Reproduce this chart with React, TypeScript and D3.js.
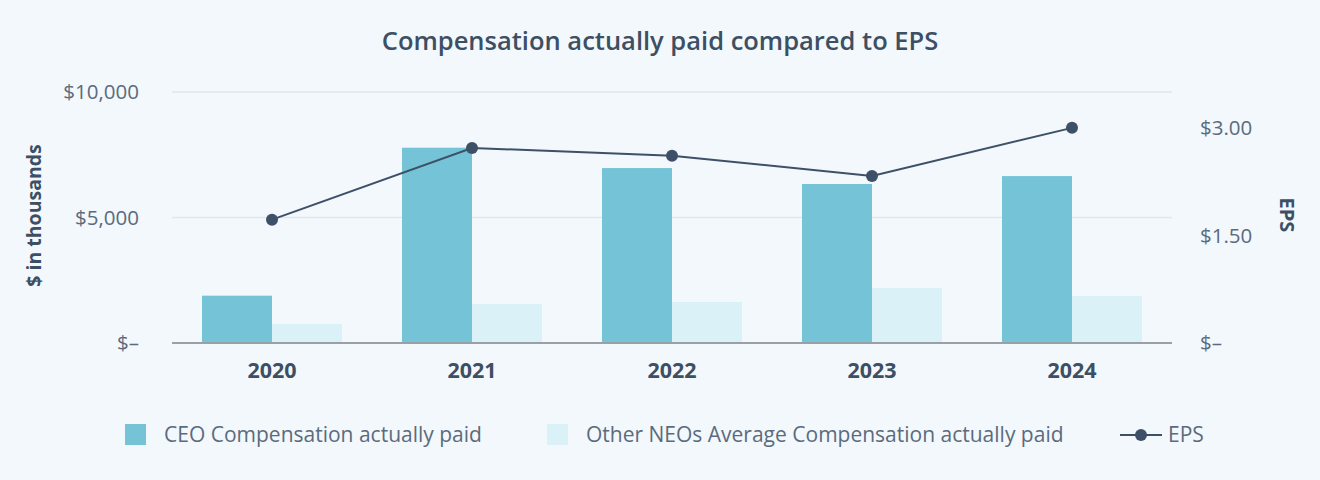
import { useEffect, useRef } from 'react';
import * as d3 from 'd3';

const years = ['2020', '2021', '2022', '2023', '2024'];
const ceoPaid = [1885, 7780, 6970, 6335, 6650];
const neoPaid = [757, 1554, 1633, 2191, 1873];
const eps = [1.72, 2.72, 2.61, 2.33, 3.0];
const leftTicks = [0, 5000, 10000];
const rightTicks = [0, 1.5, 3.0];

const W = 1320;
const H = 480;
const FONT = '"Open Sans", Lato, sans-serif';
const CEO_COLOR = '#74c3d6';
const NEO_COLOR = '#daf1f7';
const LINE_COLOR = '#3d5068';
const TEXT = '#5b6b7c';
const DARK = '#3d4f63';

export default function App() {
  const svgRef = useRef<SVGSVGElement>(null);

  useEffect(() => {
    if (!svgRef.current) return;
    const svg = d3.select(svgRef.current);
    svg.selectAll('*').remove();

    const margin = { top: 92, right: 148, bottom: 137, left: 172 };
    const innerW = W - margin.left - margin.right;
    const innerH = H - margin.top - margin.bottom;

    svg.append('rect').attr('width', W).attr('height', H).attr('fill', '#f2f8fc');

    svg.append('text')
      .attr('x', 660).attr('y', 50)
      .attr('text-anchor', 'middle')
      .attr('font-family', FONT).attr('font-size', 25.5).attr('font-weight', 600)
      .attr('fill', DARK)
      .text('Compensation actually paid compared to EPS');

    const g = svg.append('g').attr('transform', `translate(${margin.left},${margin.top})`);

    const x = d3.scaleBand().domain(years).range([0, innerW]).paddingInner(0.3).paddingOuter(0.15);
    const x1 = d3.scaleBand().domain(['ceo', 'neo']).range([0, x.bandwidth()]);
    const yL = d3.scaleLinear().domain([0, 10000]).range([innerH, 0]);
    const yR = d3.scaleLinear().domain([0, 3.5]).range([innerH, 0]);

    // gridlines
    g.selectAll('line.grid').data(leftTicks.filter(t => t > 0)).join('line')
      .attr('x1', 0).attr('x2', innerW)
      .attr('y1', d => yL(d)).attr('y2', d => yL(d))
      .attr('stroke', '#e2e6ea').attr('stroke-width', 1.5);

    // left ticks
    g.selectAll('text.lt').data(leftTicks).join('text')
      .attr('x', -33).attr('y', d => yL(d))
      .attr('dy', '0.35em').attr('text-anchor', 'end')
      .attr('font-family', FONT).attr('font-size', 20.5).attr('fill', TEXT)
      .text(d => d === 0 ? '$–' : d3.format('$,')(d));

    // right ticks
    g.selectAll('text.rt').data(rightTicks).join('text')
      .attr('x', innerW + 28).attr('y', d => yR(d))
      .attr('dy', '0.35em').attr('text-anchor', 'start')
      .attr('font-family', FONT).attr('font-size', 20.5).attr('fill', TEXT)
      .text(d => d === 0 ? '$–' : d3.format('$.2f')(d));

    // bars
    const groups = g.selectAll('g.yr').data(years).join('g')
      .attr('transform', d => `translate(${x(d)},0)`);
    groups.append('rect')
      .attr('x', x1('ceo')!).attr('width', x1.bandwidth())
      .attr('y', (_, i) => yL(ceoPaid[i])).attr('height', (_, i) => innerH - yL(ceoPaid[i]))
      .attr('fill', CEO_COLOR);
    groups.append('rect')
      .attr('x', x1('neo')!).attr('width', x1.bandwidth())
      .attr('y', (_, i) => yL(neoPaid[i])).attr('height', (_, i) => innerH - yL(neoPaid[i]))
      .attr('fill', NEO_COLOR);

    // baseline
    g.append('line')
      .attr('x1', 0).attr('x2', innerW).attr('y1', innerH).attr('y2', innerH)
      .attr('stroke', '#9aa0a6').attr('stroke-width', 2);

    // year labels
    g.selectAll('text.yr').data(years).join('text')
      .attr('x', d => x(d)! + x.bandwidth() / 2).attr('y', innerH + 35)
      .attr('text-anchor', 'middle')
      .attr('font-family', FONT).attr('font-size', 21.5).attr('font-weight', 700)
      .attr('fill', DARK)
      .text(d => d);

    // EPS line
    const cx = (i: number) => x(years[i])! + x.bandwidth() / 2;
    const line = d3.line<number>().x((_, i) => cx(i)).y(d => yR(d));
    g.append('path').datum(eps)
      .attr('fill', 'none').attr('stroke', LINE_COLOR).attr('stroke-width', 2)
      .attr('d', line);
    g.selectAll('circle.eps').data(eps).join('circle')
      .attr('cx', (_, i) => cx(i)).attr('cy', d => yR(d))
      .attr('r', 6).attr('fill', LINE_COLOR);

    // axis titles
    svg.append('text')
      .attr('transform', `translate(41,${margin.top + innerH / 2 - 2}) rotate(-90)`)
      .attr('text-anchor', 'middle')
      .attr('font-family', FONT).attr('font-size', 19.5).attr('font-weight', 700)
      .attr('fill', DARK)
      .text('$ in thousands');
    svg.append('text')
      .attr('transform', `translate(1280,215) rotate(90)`)
      .attr('text-anchor', 'middle')
      .attr('font-family', FONT).attr('font-size', 20).attr('font-weight', 700)
      .attr('fill', DARK)
      .text('EPS');

    // legend
    const ly = 435;
    const leg = svg.append('g');
    leg.append('rect').attr('x', 125).attr('y', ly - 11).attr('width', 21).attr('height', 21).attr('fill', CEO_COLOR);
    leg.append('text').attr('x', 164).attr('y', ly).attr('dy', '0.35em')
      .attr('font-family', FONT).attr('font-size', 21).attr('fill', TEXT)
      .text('CEO Compensation actually paid');
    leg.append('rect').attr('x', 547).attr('y', ly - 11).attr('width', 21).attr('height', 21).attr('fill', NEO_COLOR);
    leg.append('text').attr('x', 586).attr('y', ly).attr('dy', '0.35em')
      .attr('font-family', FONT).attr('font-size', 21).attr('fill', TEXT)
      .text('Other NEOs Average Compensation actually paid');
    leg.append('line').attr('x1', 1120).attr('x2', 1162).attr('y1', ly).attr('y2', ly)
      .attr('stroke', LINE_COLOR).attr('stroke-width', 2);
    leg.append('circle').attr('cx', 1141).attr('cy', ly).attr('r', 6).attr('fill', LINE_COLOR);
    leg.append('text').attr('x', 1168).attr('y', ly).attr('dy', '0.35em')
      .attr('font-family', FONT).attr('font-size', 21).attr('fill', TEXT)
      .text('EPS');
  }, []);

  return (
    <svg ref={svgRef} width={W} height={H} style={{ display: 'block', position: 'absolute', left: 0, top: 0 }} />
  );
}
